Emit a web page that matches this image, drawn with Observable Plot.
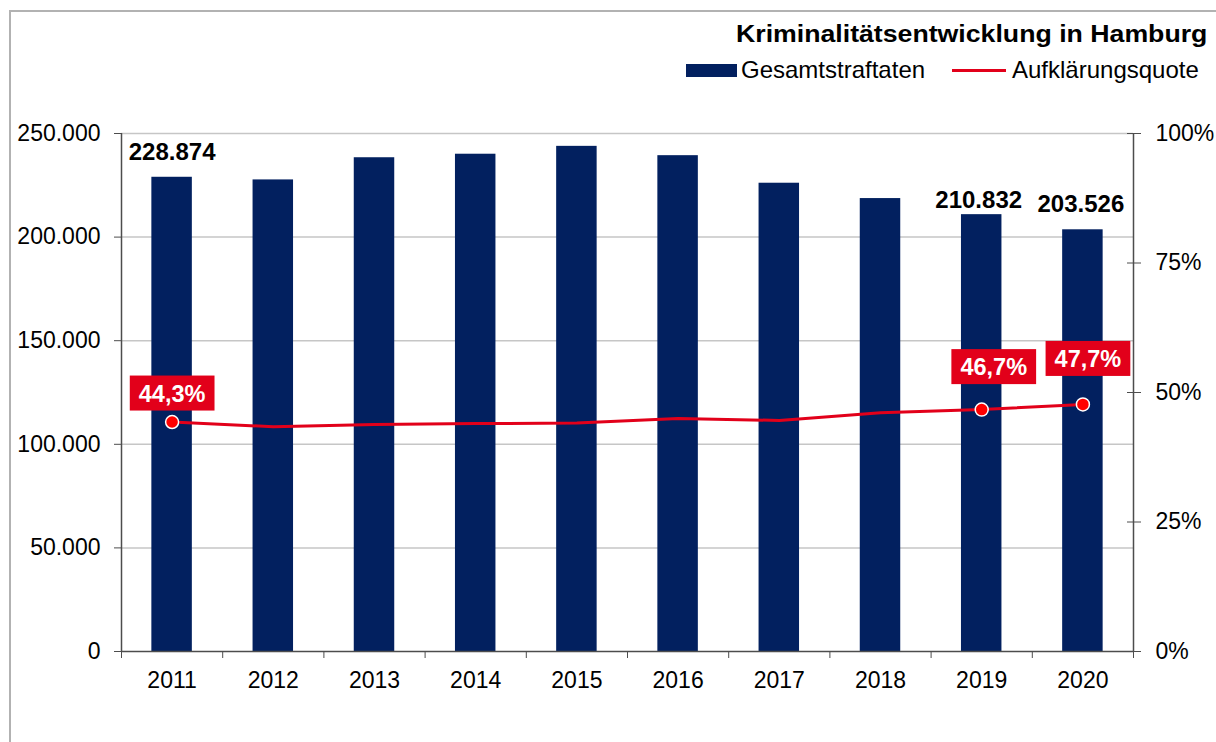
<!DOCTYPE html>
<html>
<head>
<meta charset="utf-8">
<script src="https://cdn.jsdelivr.net/npm/d3@7"></script>
<script src="https://cdn.jsdelivr.net/npm/@observablehq/plot@0.6"></script>
<style>
  html, body { margin: 0; padding: 0; background: #fff; }
  body { width: 1216px; height: 742px; overflow: hidden; position: relative; font-family: "Liberation Sans", Arial, sans-serif; color: #000; }
  .frame { position: absolute; left: 9px; top: 10px; width: 1400px; height: 900px; border-left: 2px solid #b2b2b2; border-top: 2px solid #b2b2b2; }
  .title { position: absolute; right: 9px; top: 23px; font-size: 23px; line-height: 23px; font-weight: bold; white-space: nowrap; transform: scaleX(1.16); transform-origin: right center; }
  .leg { position: absolute; font-size: 24px; line-height: 24px; white-space: nowrap; }
  .sw-bar { position: absolute; left: 686px; top: 64px; width: 51px; height: 13px; background: #02205f; }
  .sw-line { position: absolute; left: 952px; top: 69px; width: 54px; height: 3px; background: #e2001a; }
  #chart { position: absolute; left: 0; top: 100px; }
</style>
</head>
<body>
<div class="frame"></div>
<div class="title">Kriminalitätsentwicklung in Hamburg</div>
<div class="sw-bar"></div>
<div class="leg" style="left:741px; top:58px;">Gesamtstraftaten</div>
<div class="sw-line"></div>
<div class="leg" style="left:1012px; top:58px;">Aufklärungsquote</div>
<div id="chart"></div>
<script>
// ---- data ----
const years = [2011, 2012, 2013, 2014, 2015, 2016, 2017, 2018, 2019, 2020];
const totals = [228874, 227600, 238300, 240000, 243800, 239300, 226000, 218600, 210832, 203526];
const quotes = [44.3, 43.4, 43.8, 44.0, 44.1, 45.0, 44.6, 46.1, 46.7, 47.7];
const leftTicks = [0, 50000, 100000, 150000, 200000, 250000];
const rightTicks = [0, 25, 50, 75, 100];
const seriesNames = ["Gesamtstraftaten", "Aufklärungsquote"];

const yMax = 250000;
const pctToY = p => p * yMax / 100;

const de = d3.formatLocale({decimal: ",", thousands: ".", grouping: [3], currency: ["", " €"]});
const fmtInt = de.format(",.0f");
const fmtPct = de.format(".1f");

const data = years.map((year, i) => ({year, total: totals[i], quote: quotes[i]}));
const byYear = y => data.filter(d => d.year === y);
const boundaries = years.map(y => y - 0.5).concat([years[years.length - 1] + 0.5]);

const FONT = 23;
const barColor = "#02205f";
const red = "#e2001a";
const axisColor = "#4d4d4d";
const LABEL_WHITE = "#fffffe";

const totalLabel = (year, dx, dy) => Plot.text(byYear(year), {
  x: "year", y: "total", text: d => fmtInt(d.total),
  dx, dy, fontSize: 24, fontWeight: "bold", fill: "#000"
});
const pctLabel = (year, dx, dy) => Plot.text(byYear(year), {
  x: "year", y: d => pctToY(d.quote), text: d => fmtPct(d.quote) + "%",
  dx, dy, fontSize: 23.5, fontWeight: "bold", fill: LABEL_WHITE
});

const chart = Plot.plot({
  width: 1216,
  height: 600,
  marginTop: 33,
  marginBottom: 49,
  marginLeft: 121,
  marginRight: 83,
  style: {fontFamily: '"Liberation Sans", Arial, sans-serif', fontSize: FONT + "px", color: "#000", background: "transparent", overflow: "visible"},
  x: {type: "linear", domain: [years[0] - 0.5, years[years.length - 1] + 0.5]},
  y: {domain: [0, yMax]},
  marks: [
    Plot.gridY({ticks: leftTicks.slice(1), stroke: "#c6c6c6", strokeOpacity: 1, strokeWidth: 1.5}),
    Plot.rectY(data, {x1: d => d.year - 0.2, x2: d => d.year + 0.2, y: "total", fill: barColor}),
    Plot.ruleY([0], {stroke: axisColor, strokeWidth: 1.5}),
    Plot.ruleX([boundaries[0], boundaries[boundaries.length - 1]], {stroke: axisColor, strokeWidth: 1.5}),
    Plot.axisX({ticks: boundaries, tickFormat: () => "", tickSize: 7, stroke: axisColor, label: null}),
    Plot.axisX({ticks: years, tickFormat: d => String(d), tickSize: 0, tickPadding: 20, fontSize: FONT, fill: "#000", label: null}),
    Plot.axisY({ticks: leftTicks, tickFormat: fmtInt, tickSize: 7, tickPadding: 14, fontSize: FONT, stroke: axisColor, fill: "#000", label: null}),
    Plot.axisY({anchor: "right", ticks: rightTicks.map(pctToY), tickFormat: d => Math.round(d * 100 / yMax) + "%", tickSize: 14, dx: -7, tickPadding: 15, fontSize: FONT, stroke: axisColor, fill: "#000", label: null}),
    Plot.line(data, {x: "year", y: d => pctToY(d.quote), stroke: red, strokeWidth: 3}),
    Plot.dot(data.filter(d => [2011, 2019, 2020].includes(d.year)), {x: "year", y: d => pctToY(d.quote), r: 6.5, fill: "#ff0000", stroke: "#fff", strokeWidth: 1.5}),
    totalLabel(2011, 0, -25),
    totalLabel(2019, -3, -14),
    totalLabel(2020, -2, -25),
    pctLabel(2011, 0, -28),
    pctLabel(2019, 12, -42),
    pctLabel(2020, 5, -45)
  ]
});
document.getElementById("chart").append(chart);

// red label boxes behind the percent labels
chart.querySelectorAll("text").forEach(t => {
  let el = t, isPct = false;
  while (el && el !== chart) {
    if ((el.getAttribute("fill") || "").toLowerCase() === LABEL_WHITE) { isPct = true; break; }
    el = el.parentNode;
  }
  if (!isPct) return;
  const b = t.getBBox();
  const r = document.createElementNS("http://www.w3.org/2000/svg", "rect");
  r.setAttribute("x", b.x - 9);
  r.setAttribute("y", b.y - 5);
  r.setAttribute("width", b.width + 18);
  r.setAttribute("height", b.height + 9);
  r.setAttribute("fill", red);
  const tr = t.getAttribute("transform");
  if (tr) r.setAttribute("transform", tr);
  t.parentNode.insertBefore(r, t);
});
</script>
</body>
</html>
